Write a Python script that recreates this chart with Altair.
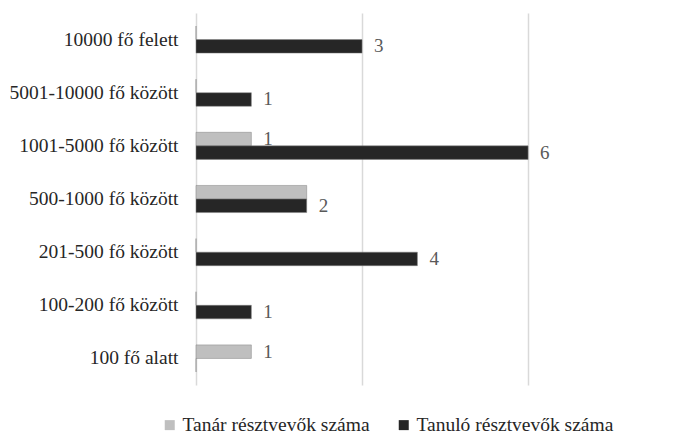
import altair as alt
import pandas as pd

categories = ["10000 fő felett", "5001-10000 fő között", "1001-5000 fő között",
              "500-1000 fő között", "201-500 fő között", "100-200 fő között", "100 fő alatt"]
tanar = [0, 0, 1, 2, 0, 0, 1]
tanulo = [3, 1, 6, 2, 4, 1, 0]
# whether the value label is shown in the reference (Tanár, Tanuló)
tanar_label = [False, False, True, False, False, False, True]
tanulo_label = [True, True, True, True, True, True, False]
series = ["Tanár résztvevők száma", "Tanuló résztvevők száma"]
colors = ["#bfbfbf", "#262626"]

rows = []
for c, a, b, la, lb in zip(categories, tanar, tanulo, tanar_label, tanulo_label):
    rows.append({"cat": c, "series": series[0], "value": a, "show": la})
    rows.append({"cat": c, "series": series[1], "value": b, "show": lb})
df = pd.DataFrame(rows)

FONT = "Liberation Serif"

y = alt.Y("cat:N", sort=categories, title=None,
          scale=alt.Scale(paddingInner=0.49, paddingOuter=0.245),
          axis=alt.Axis(ticks=False, domain=False, labelFont=FONT, labelFontSize=19.5,
                        labelColor="#262626", labelPadding=18, grid=False, labelLimit=300))
yoff = alt.YOffset("series:N", sort=series, scale=alt.Scale(paddingInner=0, paddingOuter=0))
x = alt.X("value:Q", scale=alt.Scale(domain=[0, 8.6], nice=False),
          axis=alt.Axis(values=[0, 3, 6], labels=False, ticks=False, domain=False, title=None,
                        gridColor="#d9d9d9", gridWidth=1.5))

bars = alt.Chart(df).mark_bar(stroke="#808080", strokeWidth=0.5).encode(
    x=x, y=y, yOffset=yoff,
    color=alt.Color("series:N", sort=series,
                    scale=alt.Scale(domain=series, range=colors),
                    legend=alt.Legend(orient="none", legendX=-36, legendY=402, direction="horizontal",
                                      symbolType="square", symbolSize=100, symbolStrokeWidth=0,
                                      labelFont=FONT, labelFontSize=19.5, labelColor="#262626",
                                      labelLimit=400, columnPadding=24, labelOffset=3, title=None))
)

texts = alt.Chart(df).transform_filter("datum.show").mark_text(
    align="left", baseline="middle", dx=12, font=FONT, fontSize=19, color="#595959"
).encode(x="value:Q", y=alt.Y("cat:N", sort=categories), yOffset=alt.YOffset("series:N", sort=series),
         text="value:Q")

chart = alt.layer(bars, texts).properties(
    width=476, height=372,
    autosize=alt.AutoSizeParams(type="none"),
    padding={"left": 188, "top": 5, "right": 8, "bottom": 55},
).configure_view(stroke=None)

chart.save("out.html", embed_options={"renderer": "svg", "actions": False})
